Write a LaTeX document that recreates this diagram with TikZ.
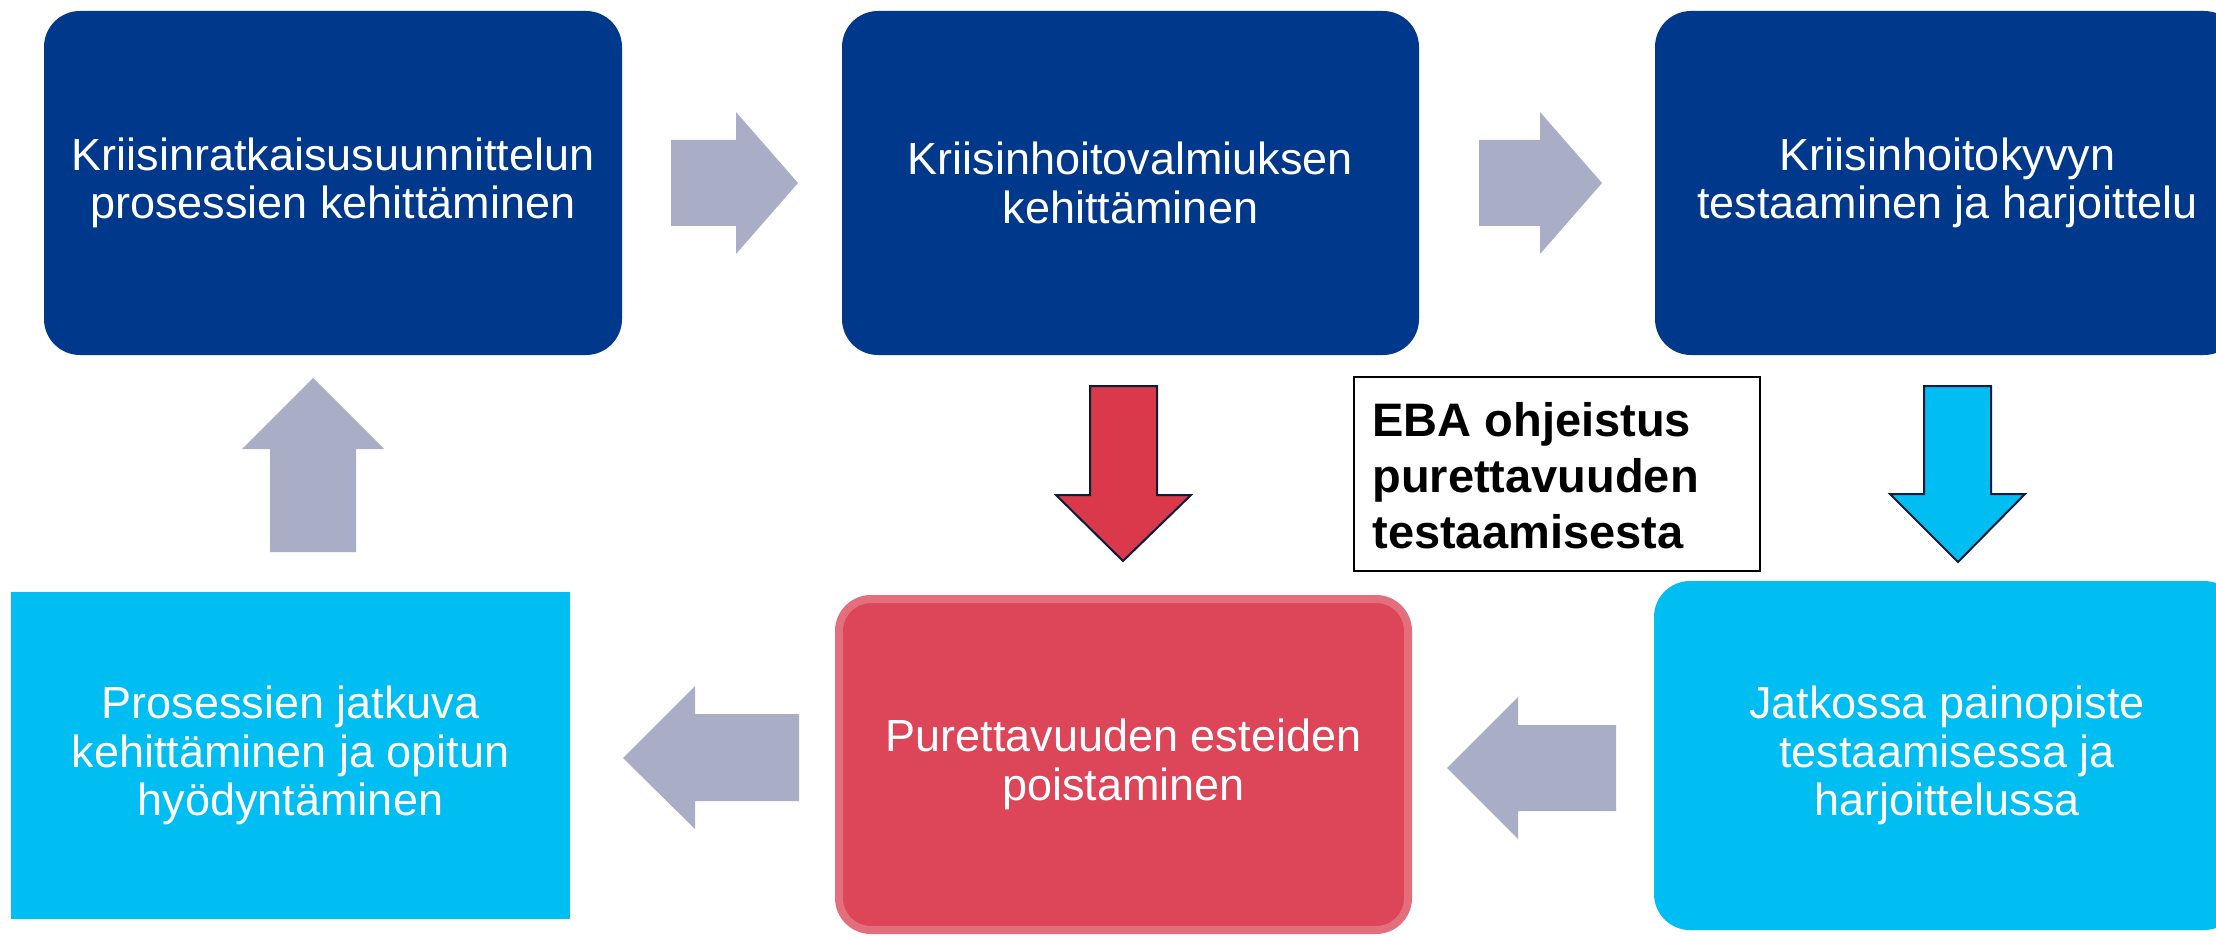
\documentclass[tikz,border=0pt]{standalone}
\usepackage{fontspec}
\setmainfont{Liberation Sans}
\definecolor{navyfill}{RGB}{0,56,140}
\definecolor{cyanfill}{RGB}{0,190,242}
\definecolor{arrowgray}{RGB}{169,174,198}
\definecolor{redfill}{RGB}{220,70,88}
\definecolor{redborder}{RGB}{227,110,124}
\definecolor{redarrow}{RGB}{217,57,74}
\definecolor{outlinenavy}{RGB}{12,28,60}
\begin{document}
\begin{tikzpicture}[x=0.5pt,y=-0.5pt,
  boxbase/.style={inner sep=0pt, align=center, text=white,
    font=\fontsize{22.5}{24.3}\selectfont},
  navybox/.style={boxbase, fill=navyfill, rounded corners=18pt},
  cyanbox/.style={boxbase, fill=cyanfill, rounded corners=18pt},
  cyanrect/.style={boxbase, fill=cyanfill},
  redbox/.style={boxbase, fill=redfill, draw=redborder, line width=4pt, rounded corners=16pt},
  notebox/.style={draw=black, line width=1pt, fill=white, inner sep=0pt},
  notetext/.style={inner sep=0pt, align=left, anchor=west,
    font=\fontsize{23.5}{28}\selectfont\bfseries},
  grayarrow/.style={fill=arrowgray, draw=none},
  outlinedarrow/.style={draw=outlinenavy, line width=1pt, line join=miter}
]
\useasboundingbox (0,0) rectangle (2216,936);
\clip (0,0) rectangle (2216,936);
\fill[white] (0,0) rectangle (2216,936);

% top row
\node[navybox, minimum width=289pt, minimum height=172pt] (tl) at (333,183)
  {Kriisinratkaisusuunnittelun\\prosessien kehittäminen};
\node[navybox, minimum width=288.5pt, minimum height=172pt] (tm) at (1130.5,183)
  {Kriisinhoitovalmiuksen\\kehittäminen};
\node[navybox, minimum width=292.5pt, minimum height=172pt] (tr) at (1947.5,183)
  {Kriisinhoitokyvyn\\testaaminen ja harjoittelu};

% bottom row
\node[cyanrect, minimum width=279.5pt, minimum height=163.5pt] (bl) at (290.5,755.5)
  {Prosessien jatkuva\\kehittäminen ja opitun\\hyödyntäminen};
\node[redbox, minimum width=284.5pt, minimum height=165.5pt] (bm) at (1123.5,764.5)
  {Purettavuuden esteiden\\poistaminen};
\node[cyanbox, minimum width=293pt, minimum height=174.5pt] (br) at (1947,755.5)
  {Jatkossa painopiste\\testaamisessa ja\\harjoittelussa};

% note box
\node[notebox, minimum width=203pt, minimum height=97pt] (eba) at (1557,474) {};
\node[notetext] (ebatext) at (1372,476)
  {EBA ohjeistus\\purettavuuden\\testaamisesta};

% gray block arrows
\fill[grayarrow] (671,140) -- (736,140) -- (736,112) -- (798,183) -- (736,254) -- (736,226) -- (671,226) -- cycle;
\fill[grayarrow] (1479,140) -- (1540,140) -- (1540,112) -- (1602,183) -- (1540,254) -- (1540,226) -- (1479,226) -- cycle;
\fill[grayarrow] (270,552) -- (270,449) -- (242,449) -- (313,378) -- (384,449) -- (356,449) -- (356,552) -- cycle;
\fill[grayarrow] (799,714) -- (695,714) -- (695,686) -- (623,758) -- (695,829) -- (695,801) -- (799,801) -- cycle;
\fill[grayarrow] (1616,725) -- (1518,725) -- (1518,697) -- (1447,768) -- (1518,839) -- (1518,811) -- (1616,811) -- cycle;

% outlined down arrows
\filldraw[outlinedarrow, fill=redarrow] (1090,386) -- (1157,386) -- (1157,495) -- (1191,495) -- (1123,561) -- (1056,495) -- (1090,495) -- cycle;
\filldraw[outlinedarrow, fill=cyanfill] (1924,386) -- (1991,386) -- (1991,494) -- (2025,494) -- (1958,562) -- (1890,494) -- (1924,494) -- cycle;
\end{tikzpicture}
\end{document}
